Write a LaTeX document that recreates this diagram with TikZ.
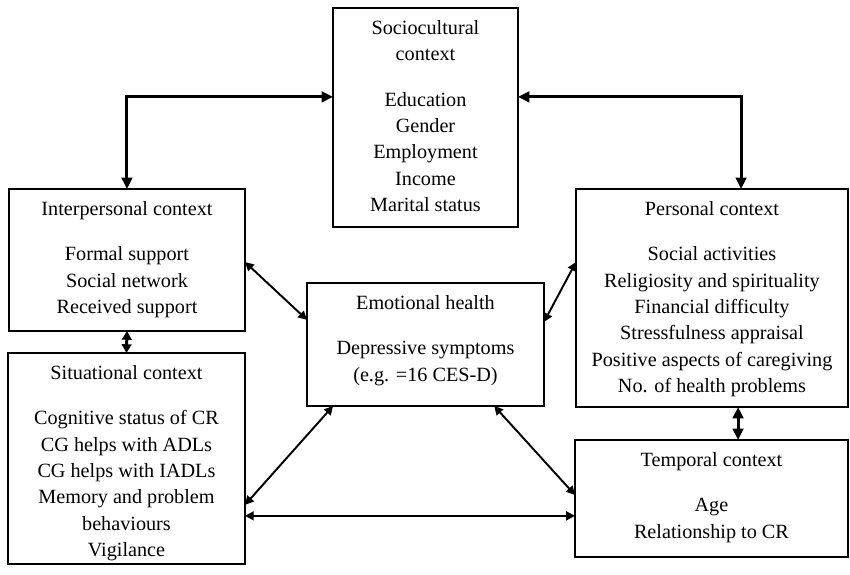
\documentclass[tikz,border=0pt]{standalone}
\usepackage{fontspec}
\setmainfont{Liberation Serif}
\usetikzlibrary{arrows.meta,calc}
\newcommand{\ctxtext}[3]{\parbox[t][#2][t]{#1}{\centering\rule{0pt}{14.8pt}#3}}

\begin{document}
\begin{tikzpicture}[
  x=0.02cm, y=-0.02cm,
  every node/.style={inner sep=0pt, outer sep=0pt},
  ctx/.style={draw, line width=0.8pt, anchor=north west,
              font=\fontsize{11.5}{15}\selectfont},
  link/.style={{Triangle[length=5pt,width=5pt]}-{Triangle[length=5pt,width=5pt]},
               line width=1.1pt},
  wide/.style={{Triangle[length=6.5pt,width=6pt]}-{Triangle[length=6.5pt,width=6pt]},
               line width=1.7pt},
  short/.style={{Triangle[length=5pt,width=5.5pt]}-{Triangle[length=5pt,width=5.5pt]},
               line width=1.7pt},
]
\useasboundingbox (0,0) rectangle (850,575);

% ---------------------------------------------------------------- contexts
\node[ctx] (soc) at (333,8)
  {\ctxtext{3.70cm}{4.38cm}{Sociocultural\\ context\\[11pt]
   Education\\ Gender\\ Employment\\ Income\\ Marital status}};

\node[ctx] (inter) at (9,189)
  {\ctxtext{4.72cm}{2.84cm}{Interpersonal context\\[11pt]
   Formal support\\ Social network\\ Received support}};

\node[ctx] (sit) at (8,353)
  {\ctxtext{4.74cm}{4.22cm}{Situational context\\[11pt]
   Cognitive status of CR\\ CG helps with ADLs\\ CG helps with IADLs\\
   Memory and problem\\ behaviours\\ Vigilance}};

\node[ctx] (pers) at (576,189)
  {\ctxtext{5.44cm}{4.36cm}{Personal context\\[11pt]
   Social activities\\ Religiosity and spirituality\\ Financial difficulty\\
   Stressfulness appraisal\\ Positive aspects of caregiving\\
   No. of health problems}};

\node[ctx] (temp) at (575,440)
  {\ctxtext{5.46cm}{2.34cm}{Temporal context\\[11pt]
   Age\\ Relationship to CR}};

% ---------------------------------------------------------------- outcome
\node[ctx] (emo) at (307,283)
  {\ctxtext{4.74cm}{2.46cm}{Emotional health\\[11pt]
   Depressive symptoms\\ (e.g. =16 CES-D)}};

% ---------------------------------------------------------------- anchors
\coordinate (socL)  at ($(soc.north west)!0.406!(soc.south west)$);
\coordinate (socR)  at ($(soc.north east)!0.406!(soc.south east)$);
\coordinate (persT) at ($(pers.north west)!0.607!(pers.north east)$);
\coordinate (persB) at ($(pers.south west)!0.596!(pers.south east)$);
\coordinate (interR) at ($(inter.north east)!0.514!(inter.south east)$);
\coordinate (persL) at ($(pers.north west)!0.335!(pers.south west)$);
\coordinate (emoL)  at ($(emo.north west)!0.30!(emo.south west)$);
\coordinate (emoR)  at ($(emo.north east)!0.317!(emo.south east)$);
\coordinate (emoBL) at ($(emo.south west)!0.11!(emo.south east)$);
\coordinate (emoBR) at ($(emo.south west)!0.79!(emo.south east)$);
\coordinate (sitR1) at ($(sit.north east)!0.72!(sit.south east)$);
\coordinate (sitR2) at ($(sit.north east)!0.772!(sit.south east)$);
\coordinate (tempL) at ($(temp.north west)!0.47!(temp.south west)$);

% ---------------------------------------------------------------- links
\draw[wide] (socL) -| (inter.north);
\draw[wide] (socR) -| (persT);
\draw[short] (inter.south) -- (sit.north);
\draw[wide] (persB) -- (temp.north -| persB);

\draw[link] (interR) -- (emoL);
\draw[link] (emoR) -- (persL);
\draw[link] (emoBL) -- (sitR1);
\draw[link] (emoBR) -- (tempL);
\draw[link] (sitR2) -- (temp.west |- sitR2);

\end{tikzpicture}
\end{document}
